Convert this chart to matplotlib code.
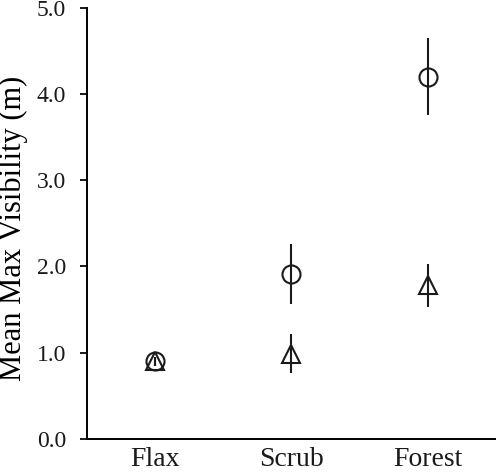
import matplotlib.pyplot as plt
import numpy as np

# habitat categories and mean max visibility (m) with error bars
habitats = ['Flax', 'Scrub', 'Forest']
circle_mean = [0.90, 1.91, 4.20]
circle_err = [0.05, 0.35, 0.45]
triangle_mean = [0.90, 0.99, 1.78]
triangle_err = [0.05, 0.23, 0.25]

plt.rcParams['font.family'] = ['Liberation Serif', 'DejaVu Serif']

fig = plt.figure(figsize=(4.96, 4.74), dpi=100)
ax = fig.add_axes([0.175, 0.074, 0.825, 0.91])

x = np.arange(1, len(habitats) + 1)
ax.errorbar(x, circle_mean, yerr=circle_err, fmt='o', ms=13, mfc='none',
            mec='#1a1a1a', mew=1.5, ecolor='#1a1a1a', elinewidth=1.5, capsize=0)
ax.errorbar(x, triangle_mean, yerr=triangle_err, fmt='^', ms=13, mfc='none',
            mec='#1a1a1a', mew=1.5, ecolor='#1a1a1a', elinewidth=1.5, capsize=0)

ax.set_xlim(0.5, 3.5)
ax.set_ylim(0, 5)
ax.set_yticks(np.arange(0, 5.1, 1))
ax.set_yticklabels(['{:.1f}'.format(v) for v in np.arange(0, 5.1, 1)])
ax.set_xticks(x)
ax.set_xticklabels(habitats)
ax.set_ylabel('Mean Max Visibility (m)', fontsize=22)
ax.yaxis.set_label_coords(-0.143, 0.487)

ax.spines['top'].set_visible(False)
ax.spines['right'].set_visible(False)
ax.spines['left'].set_linewidth(1.4)
ax.spines['bottom'].set_linewidth(1.4)
ax.tick_params(axis='y', direction='out', length=5, width=1.4, labelsize=17,
               pad=10, colors='#1a1a1a')
ax.tick_params(axis='x', length=0, labelsize=20, pad=6, colors='#1a1a1a')

fig.savefig('out.png', dpi=100)
